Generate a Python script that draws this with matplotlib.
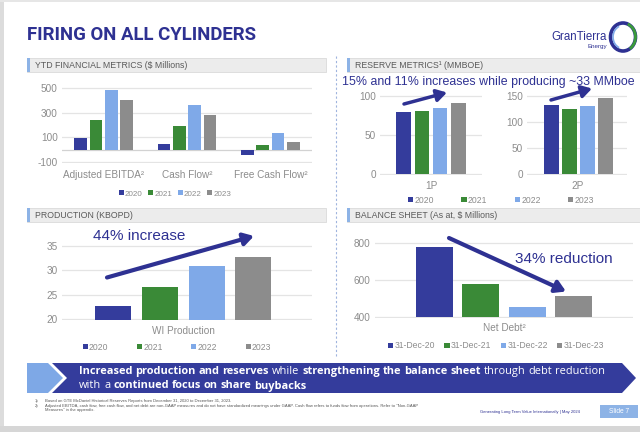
import numpy as np
import matplotlib
matplotlib.use('Agg')
import matplotlib.pyplot as plt
from matplotlib.patches import Rectangle, Polygon, Ellipse, Arc

# ====== Data ======
years = ['2020', '2021', '2022', '2023']
fin_cats = ['Adjusted EBITDA²', 'Cash Flow²', 'Free Cash Flow²']
fin_vals = {                      # $ millions, per year across fin_cats
    '2020': [96, 49, -47],
    '2021': [244, 191, 41],
    '2022': [481, 364, 135],
    '2023': [399, 279, 63],
}
res_1p = [79, 81, 84, 91]         # MMBOE
res_2p = [133, 125.5, 130.5, 146.5]
prod_wi = [22.6, 26.5, 30.9, 32.7]  # KBOPD
debt_dates = ['31-Dec-20', '31-Dec-21', '31-Dec-22', '31-Dec-23']
net_debt = [778, 578, 456, 513]   # $ millions

# ====== Style ======
W, H = 640, 432
COLORS = ['#343c9c', '#3a8a37', '#7fa9e8', '#8c8c8c']
NAVY = '#2e3192'
GRAY_TXT = '#8c8c8c'
FONT = 'Liberation Sans'
plt.rcParams.update({'font.family': FONT, 'axes.unicode_minus': False})

fig = plt.figure(figsize=(6.4, 4.32), dpi=100)
fig.patch.set_facecolor('white')
renderer = fig.canvas.get_renderer()


def px_axes(x0, y0, x1, y1, z=1):
    return fig.add_axes([x0 / W, 1 - y1 / H, (x1 - x0) / W, (y1 - y0) / H], zorder=z)


def chart_axes(x0, x1, v0, y0, v1, y1, lo, hi):
    """Axes whose value v0 sits at pixel y0 and v1 at pixel y1."""
    s = (y0 - y1) / (v1 - v0)
    ax = px_axes(x0, y1 - (hi - v1) * s, x1, y0 + (v0 - lo) * s, z=2)
    ax.set_ylim(lo, hi)
    ax.set_facecolor('none')
    for sp in ax.spines.values():
        sp.set_visible(False)
    ax.grid(axis='y', color='#e4e4e4', lw=0.9)
    ax.set_axisbelow(True)
    ax.tick_params(length=0, colors=GRAY_TXT, labelsize=7.2, pad=3)
    return ax


# full-figure background and foreground layers in pixel coords
bg = px_axes(0, 0, W, H, z=0)
fg = px_axes(0, 0, W, H, z=10)
for a in (bg, fg):
    a.set_xlim(0, W)
    a.set_ylim(H, 0)
    a.axis('off')
    a.set_facecolor('none')

# slide frame
bg.add_patch(Rectangle((0, 0), 4, 426, color='#dcdcdc', lw=0))
bg.add_patch(Rectangle((0, 426), W, 6, color='#d6d6d6', lw=0))
bg.add_patch(Rectangle((0, 0), W, 1.5, color='#e6e6e6', lw=0))

# title (fit to the width of the original condensed face) + logo
title = bg.text(27, 35, 'FIRING ON ALL CYLINDERS', fontsize=15, fontweight='bold',
                color=NAVY, va='center', ha='left', family='Roboto')
tw = title.get_window_extent(renderer).width
title.set_fontsize(15 * 231 / tw)
bg.text(607, 37, 'GranTierra', fontsize=8.3, color=NAVY, ha='right', va='center')
bg.text(607, 46.5, 'Energy', fontsize=4.5, color=NAVY, ha='right', va='center')
bg.add_patch(Ellipse((623, 37), 25, 28, fill=False, ec=NAVY, lw=2.6))
bg.add_patch(Arc((623, 37), 25, 28, theta1=-70, theta2=60, ec='#3a9a3a', lw=2.0))
bg.add_patch(Arc((623, 37), 20, 23, theta1=110, theta2=250, ec='#7fa9e8', lw=1.2))


def header(x0, x1, y0, text):
    bg.add_patch(Rectangle((x0, y0), x1 - x0, 14, fc='#ececec', ec='#d4d4d4', lw=0.5))
    bg.add_patch(Rectangle((x0, y0), 2.5, 14, fc='#8db3e6', lw=0))
    bg.text(x0 + 8, y0 + 7.3, text, fontsize=6.3, color='#5a5a5a', va='center', ha='left')


header(27, 326, 58, 'YTD FINANCIAL METRICS ($ Millions)')
header(347, 641, 58, 'RESERVE METRICS¹ (MMBOE)')
header(27, 326, 208, 'PRODUCTION (KBOPD)')
header(347, 641, 208, 'BALANCE SHEET (As at, $ Millions)')
bg.plot([336, 336], [56, 356], ls=(0, (2, 2)), color='#9fb4de', lw=0.8)


def legend(handles, labels, cx, cy, size, spacing):
    fig.legend(handles, labels, loc='center', bbox_to_anchor=(cx / W, 1 - cy / H),
               ncol=len(labels), frameon=False, fontsize=size, labelcolor=GRAY_TXT,
               handlelength=0.6, handleheight=0.6, handletextpad=0.15,
               columnspacing=spacing, borderpad=0)


# ====== (a) YTD financial metrics ======
ax = chart_axes(62, 312, -100, 162, 500, 88, -108, 508)
x = np.arange(len(fin_cats))
hs = []
for i, yr in enumerate(years):
    hs.append(ax.bar(x + (i - 1.5) * 0.184, fin_vals[yr], 0.152, color=COLORS[i], label=yr))
ax.axhline(0, color='#d2d2d2', lw=0.9, zorder=0.5)
ax.set_xlim(-0.5, 2.5)
ax.set_yticks([-100, 100, 300, 500])
ax.set_xticks(x, fin_cats)
ax.tick_params(axis='x', pad=5)
legend(hs, years, 175, 194, 5.8, 0.7)

# ====== (b) Reserves 1P / 2P ======
off = (np.arange(4) - 1.5) * 0.18
ax = chart_axes(380, 482, 0, 174, 100, 96, -1.5, 101.5)
h1p = [ax.bar(off[i], res_1p[i], 0.14, color=COLORS[i], label=years[i]) for i in range(4)]
ax.set_xlim(-0.5, 0.5)
ax.set_yticks([0, 50, 100])
ax.set_xticks([0], ['1P'])
ax.tick_params(axis='x', pad=4)

ax = chart_axes(527, 627, 0, 174, 150, 96, -2, 152)
for i in range(4):
    ax.bar(off[i], res_2p[i], 0.15, color=COLORS[i])
ax.set_xlim(-0.51, 0.49)
ax.set_yticks([0, 50, 100, 150])
ax.set_xticks([0], ['2P'])
ax.tick_params(axis='x', pad=4)
legend(h1p, years, 501, 200, 6.2, 3.2)

fg.text(342, 82, '15% and 11% increases while producing ~33 MMboe', fontsize=8.95,
        color=NAVY, va='center', ha='left')
arrow = dict(arrowstyle='-|>,head_length=0.5,head_width=0.3', color=NAVY, lw=2.5,
             shrinkA=0, shrinkB=0, mutation_scale=12)
fg.annotate('', xy=(447, 92.5), xytext=(404, 104), arrowprops=arrow)
fg.annotate('', xy=(592, 88.5), xytext=(551, 100), arrowprops=arrow)

# ====== (c) Production ======
ax = chart_axes(62, 312, 20, 319, 35, 246, 19.8, 35.2)
hp = [ax.bar(off[i] * 1.04, prod_wi[i], 0.144, color=COLORS[i], label=years[i]) for i in range(4)]
ax.set_xlim(-0.485, 0.515)
ax.set_yticks([20, 25, 30, 35])
ax.set_xticks([0], ['WI Production'])
ax.tick_params(axis='x', pad=4)
legend(hp, years, 177, 347, 6.2, 3.3)
fg.text(93, 236, '44% increase', fontsize=11, color=NAVY, va='center', ha='left')
arrow3 = dict(arrow, lw=3)
fg.annotate('', xy=(254, 236), xytext=(107, 277.5), arrowprops=arrow3)

# ====== (d) Balance sheet ======
ax = chart_axes(375, 633, 400, 317, 800, 243, 396, 804)
hd = [ax.bar(off[i], net_debt[i] - 400, 0.143, bottom=400, color=COLORS[i], label=debt_dates[i])
      for i in range(4)]
ax.set_xlim(-0.5, 0.5)
ax.set_yticks([400, 600, 800])
ax.set_xticks([0], ['Net Debt²'])
ax.tick_params(axis='x', pad=3.5)
legend(hd, debt_dates, 496, 346, 6.2, 1.1)
fg.text(515, 259, '34% reduction', fontsize=11, color=NAVY, va='center', ha='left')
fg.annotate('', xy=(566, 291.5), xytext=(449, 238), arrowprops=arrow3)

# ====== Banner ======
bg.add_patch(Polygon([(27, 363), (48, 363), (63, 378), (48, 393), (27, 393)],
                     closed=True, fc='#7ea8e6', lw=0))
bg.add_patch(Polygon([(52, 363), (622, 363), (636, 378), (622, 393), (52, 393), (67, 378)],
                     closed=True, fc='#343c9c', lw=0))


def rich_line(x, y, parts, size):
    probe = bg.text(0, 0, 'xx', fontsize=size, family='Open Sans')
    w2 = probe.get_window_extent(renderer).width
    probe.set_text('x x')
    space = probe.get_window_extent(renderer).width - w2
    probe.remove()
    for s, bold in parts:
        for word in s.split(' '):
            t = bg.text(x, y, word, fontsize=size, color='white', va='center', ha='left',
                        family='Open Sans', fontweight='bold' if bold else 'normal')
            x += t.get_window_extent(renderer).width + space


rich_line(79, 371.5, [('Increased production and reserves', True), ('while', False),
                      ('strengthening the balance sheet', True),
                      ('through debt reduction', False)], 7.95)
rich_line(79, 386, [('with a', False), ('continued focus on share buybacks', True)], 7.95)

# footnotes
foot = dict(fontsize=3, color='#555555', va='center', ha='left')
bg.text(35, 401, '1)', **foot)
bg.text(45, 401, 'Based on GTE McDaniel Historical Reserves Reports from December 31, 2020 '
        'to December 31, 2023.', **foot)
bg.text(35, 406.5, '2)', **foot)
bg.text(45, 406.5, 'Adjusted EBITDA, cash flow, free cash flow, and net debt are non-GAAP '
        'measures and do not have standardized meanings under GAAP. Cash flow refers to '
        'funds flow from operations. Refer to "Non-GAAP', **foot)
bg.text(45, 410.5, 'Measures" in the appendix.', **foot)
bg.text(480, 412, 'Generating Long Term Value Internationally | May 2024', fontsize=3,
        color=NAVY, va='center', ha='left')
bg.add_patch(Rectangle((600, 405), 38, 13, fc='#8db3e6', lw=0))
bg.text(619, 411.5, 'Slide 7', fontsize=4.8, color='white', va='center', ha='center')

fig.savefig('out.png', dpi=100)
